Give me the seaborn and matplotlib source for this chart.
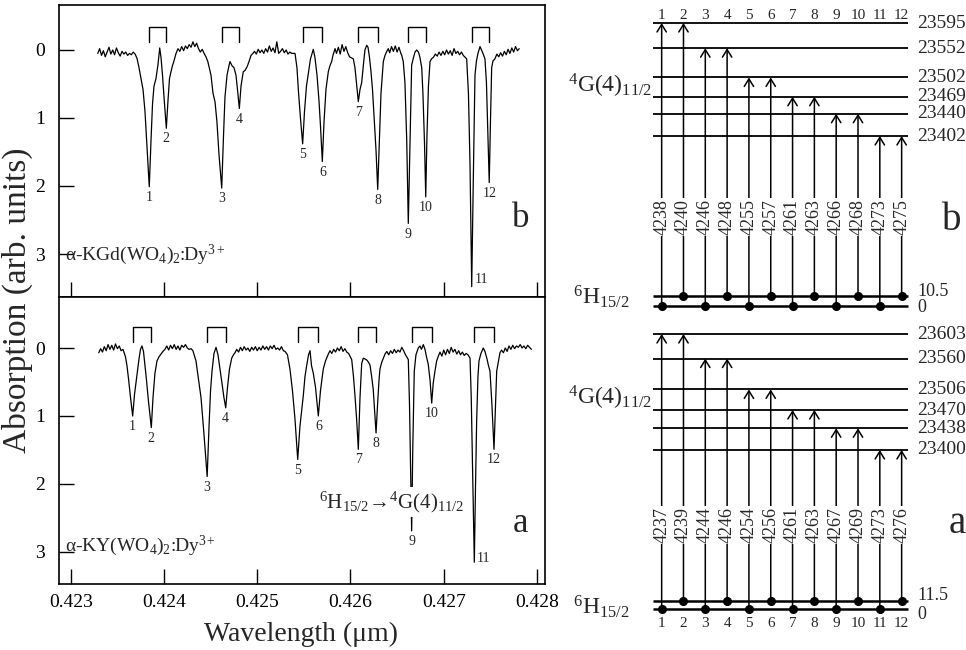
import numpy as np
import pandas as pd
import matplotlib
matplotlib.use('Agg')
import matplotlib.pyplot as plt
import matplotlib.transforms as mtransforms
import seaborn as sns

sns.set_theme(style='ticks')
plt.rcParams['font.family'] = ['Liberation Serif', 'DejaVu Serif']
plt.rcParams['mathtext.fontset'] = 'custom'
plt.rcParams['mathtext.rm'] = 'Liberation Serif'
plt.rcParams['mathtext.it'] = 'Liberation Serif:italic'
plt.rcParams['mathtext.bf'] = 'Liberation Serif:bold'
plt.rcParams['axes.unicode_minus'] = False

# ---------------- spectrum b : alpha-KGd(WO4)2:Dy3+  (wavelength in nm, absorption arb. units)
spec_b_wl = [
    423.29, 423.31, 423.33, 423.35, 423.37, 423.39, 423.41, 423.43, 423.45, 423.47, 423.49, 423.51,
    423.53, 423.55, 423.57, 423.59, 423.61, 423.63, 423.65, 423.67, 423.69, 423.71,
    423.732, 423.753, 423.775, 423.796, 423.818, 423.842, 423.861, 423.877, 423.893, 423.914, 423.936,
    423.954, 423.968, 423.984, 424.000, 424.025, 424.043, 424.059, 424.075, 424.091, 424.107, 424.129, 424.150,
    424.17, 424.19, 424.21, 424.23, 424.25, 424.27, 424.29, 424.31, 424.33, 424.35, 424.37, 424.39,
    424.41, 424.43, 424.45, 424.47,
    424.504, 424.526, 424.547, 424.568, 424.590, 424.619, 424.638, 424.654, 424.676, 424.697, 424.708,
    424.729, 424.751, 424.772, 424.788, 424.808, 424.826, 424.850, 424.869, 424.890, 424.912, 424.933, 424.954,
    424.97, 424.99, 425.01, 425.03, 425.05, 425.07, 425.09, 425.11, 425.13, 425.15, 425.17, 425.19,
    425.21, 425.23, 425.25, 425.27, 425.29, 425.31, 425.33, 425.35, 425.37, 425.405,
    425.426, 425.442, 425.464, 425.487, 425.507, 425.528, 425.550, 425.571, 425.601, 425.619, 425.641,
    425.662, 425.678, 425.698, 425.716, 425.737, 425.762, 425.780, 425.798, 425.812, 425.834,
    425.85, 425.87, 425.89, 425.91, 425.93, 425.95, 425.97, 425.99,
    426.030, 426.048, 426.064, 426.084, 426.102, 426.120, 426.139, 426.155, 426.174, 426.188, 426.204,
    426.220, 426.236, 426.252, 426.274, 426.292, 426.311, 426.327, 426.352, 426.370, 426.386, 426.405,
    426.42, 426.44, 426.46, 426.48, 426.50, 426.52, 426.54, 426.55,
    426.566, 426.584, 426.603, 426.620, 426.636, 426.656, 426.676, 426.692, 426.710, 426.729, 426.745,
    426.764, 426.777, 426.794, 426.807, 426.820, 426.836, 426.853, 426.869, 426.888,
    426.91, 426.93, 426.95, 426.97, 426.99, 427.01, 427.03, 427.05, 427.07, 427.09, 427.11, 427.13,
    427.15, 427.17, 427.19, 427.21,
    427.246, 427.265, 427.282, 427.300, 427.317, 427.335, 427.351, 427.367, 427.389, 427.405, 427.421,
    427.442, 427.458, 427.472, 427.488, 427.501, 427.514, 427.528, 427.549,
    427.57, 427.59, 427.61, 427.63, 427.65, 427.67, 427.69, 427.71, 427.73, 427.75, 427.77, 427.79, 427.81,
]
spec_b_abs = [
    0.05, -0.02, 0.08, 0.01, 0.10, 0.03, -0.04, 0.06, 0.00, 0.07, -0.03, 0.04,
    0.09, 0.02, 0.06, 0.03, 0.08, 0.05, 0.07, 0.03, 0.06, 0.12,
    0.26, 0.42, 0.58, 0.90, 1.43, 2.01, 1.32, 0.79, 0.53, 0.42, 0.21,
    -0.03, 0.11, 0.37, 0.69, 1.15, 0.74, 0.42, 0.32, 0.23, 0.16, 0.05, -0.02,
    0.02, -0.05, 0.01, -0.06, -0.02, -0.08, -0.04, -0.12, -0.05, -0.10, -0.02, 0.03,
    -0.01, 0.05, 0.10, 0.17,
    0.37, 0.64, 0.76, 1.06, 1.54, 2.03, 1.27, 0.69, 0.37, 0.23, 0.17,
    0.23, 0.26, 0.37, 0.58, 0.86, 0.53, 0.32, 0.30, 0.25, 0.17, 0.08, 0.05,
    0.02, 0.06, -0.01, 0.04, 0.00, 0.05, -0.02, 0.03, -0.06, 0.02, -0.03, 0.04,
    -0.12, 0.05, 0.02, -0.02, 0.04, 0.00, 0.06, 0.03, 0.05, 0.05,
    0.26, 0.61, 1.01, 1.38, 0.90, 0.53, 0.32, 0.13, -0.01, 0.11, 0.37,
    0.74, 1.11, 1.64, 1.06, 0.58, 0.32, 0.23, 0.17, 0.08, -0.02,
    0.05, -0.04, 0.06, -0.08, 0.02, -0.05, 0.04, 0.10,
    0.13, 0.26, 0.48, 0.76, 0.58, 0.48, 0.21, 0.00, -0.07, -0.04, 0.11,
    0.32, 0.58, 0.95, 1.48, 2.05, 1.27, 0.64, 0.17, 0.08, 0.03, -0.02,
    0.04, -0.05, 0.02, -0.06, 0.03, -0.04, 0.05, 0.08,
    0.17, 0.48, 1.32, 2.55, 1.48, 0.22, 0.11, 0.03, 0.00, 0.03, 0.11,
    0.26, 0.64, 1.38, 2.16, 1.27, 0.53, 0.17, 0.13, 0.11,
    0.06, 0.09, 0.03, 0.08, 0.02, 0.07, 0.00, 0.06, 0.01, 0.08, -0.02, 0.05,
    0.02, 0.07, 0.03, 0.08,
    0.13, 0.64, 1.69, 3.48, 1.91, 0.37, 0.16, 0.05, -0.05, 0.00, 0.05,
    0.13, 0.48, 1.16, 1.95, 1.06, 0.26, 0.16, 0.13,
    0.06, 0.10, 0.04, 0.09, 0.02, 0.07, -0.01, 0.05, -0.03, 0.03, -0.05, 0.01, -0.02,
]
peaks_b_wl = [423.842, 424.025, 424.619, 424.808, 425.487, 425.698,
              426.084, 426.292, 426.620, 426.807, 427.300, 427.488]

# ---------------- spectrum a : alpha-KY(WO4)2:Dy3+
spec_a_wl = [
    423.30, 423.32, 423.34, 423.36, 423.38, 423.40, 423.42, 423.44, 423.46, 423.48, 423.50, 423.52,
    423.54, 423.56,
    423.587, 423.603, 423.621, 423.641, 423.664, 423.684, 423.710, 423.732, 423.748, 423.764, 423.780,
    423.796, 423.810, 423.834, 423.864, 423.882, 423.903, 423.925, 423.946, 423.968, 423.989,
    424.01, 424.03, 424.05, 424.07, 424.09, 424.11, 424.13, 424.15, 424.17, 424.19, 424.21, 424.23,
    424.25, 424.27, 424.29, 424.31,
    424.343, 424.372, 424.397, 424.426, 424.445, 424.463, 424.483, 424.499, 424.515, 424.536, 424.558,
    424.579, 424.601, 424.622, 424.643, 424.662, 424.681, 424.702, 424.726, 424.745, 424.761,
    424.78, 424.80, 424.82, 424.84, 424.86, 424.88, 424.90, 424.92, 424.94, 424.96, 424.98, 425.00,
    425.02, 425.04, 425.06, 425.08, 425.10, 425.12, 425.14, 425.16, 425.18, 425.20, 425.22, 425.24,
    425.26, 425.28,
    425.298, 425.324, 425.351, 425.378, 425.405, 425.434, 425.458, 425.494, 425.512, 425.530, 425.550,
    425.566, 425.582, 425.601, 425.625, 425.655, 425.678, 425.708, 425.732, 425.762,
    425.78, 425.80, 425.82, 425.84, 425.86, 425.88, 425.90, 425.92, 425.94, 425.96, 425.98,
    426.013, 426.032, 426.048, 426.066, 426.084, 426.102, 426.120, 426.137, 426.155, 426.177, 426.193,
    426.209, 426.227, 426.244, 426.260, 426.274, 426.290, 426.306, 426.316, 426.335, 426.352, 426.370,
    426.39, 426.41, 426.43, 426.45, 426.47, 426.49, 426.51, 426.53, 426.55, 426.57, 426.59,
    426.620, 426.633, 426.643, 426.656, 426.668, 426.684, 426.702, 426.727, 426.745, 426.761, 426.781,
    426.799, 426.815, 426.834, 426.853, 426.871, 426.887, 426.906, 426.924, 426.942,
    426.96, 426.98, 427.00, 427.02, 427.04, 427.06, 427.08, 427.10, 427.12, 427.14, 427.16, 427.18,
    427.20, 427.22, 427.24, 427.26,
    427.282, 427.295, 427.306, 427.317, 427.328, 427.340, 427.353, 427.367, 427.378, 427.399, 427.424,
    427.442, 427.464, 427.480, 427.496, 427.517, 427.539, 427.555, 427.568, 427.587, 427.603,
    427.62, 427.64, 427.66, 427.68, 427.70, 427.72, 427.74, 427.76, 427.78, 427.80, 427.82, 427.84,
    427.86, 427.88, 427.90, 427.94,
]
spec_a_abs = [
    0.07, 0.01, 0.06, -0.02, 0.04, -0.05, 0.02, -0.04, 0.03, -0.06, 0.01, -0.03,
    0.04, 0.02,
    0.13, 0.26, 0.47, 0.73, 1.00, 0.68, 0.40, 0.16, 0.02, -0.03, 0.05,
    0.26, 0.44, 0.79, 1.17, 0.73, 0.37, 0.19, 0.13, 0.09, 0.05,
    0.02, -0.03, 0.03, -0.04, 0.01, -0.05, 0.02, -0.03, 0.03, -0.04, -0.01, -0.05,
    0.00, 0.02, 0.01, 0.04,
    0.19, 0.48, 0.73, 1.22, 1.57, 1.89, 1.15, 0.63, 0.34, 0.08, -0.01,
    0.10, 0.31, 0.52, 0.73, 0.88, 0.58, 0.31, 0.15, 0.10, 0.07,
    0.02, 0.06, -0.01, 0.04, -0.02, 0.03, 0.00, 0.05, -0.01, 0.03, -0.02, 0.04,
    -0.01, 0.03, -0.03, 0.02, -0.02, 0.03, -0.03, 0.01, -0.04, 0.02, 0.00, 0.03,
    -0.02, 0.04,
    0.05, 0.10, 0.31, 0.63, 1.05, 1.64, 1.15, 0.70, 0.42, 0.26, 0.10,
    0.04, 0.26, 0.37, 0.58, 1.00, 0.63, 0.31, 0.19, 0.09,
    0.04, 0.08, 0.02, 0.06, 0.00, 0.04, -0.02, 0.05, 0.01, 0.06, 0.08,
    0.17, 0.42, 0.70, 1.05, 1.49, 0.73, 0.23, 0.15, 0.16, 0.18, 0.21,
    0.25, 0.42, 0.61, 0.94, 1.25, 0.84, 0.47, 0.31, 0.21, 0.15, 0.09,
    0.05, 0.10, 0.04, 0.08, 0.02, 0.07, 0.03, 0.06, -0.01, 0.04, 0.10,
    0.17, 0.84, 1.68, 2.69, 1.47, 0.34, 0.10, 0.00, -0.03, 0.02, -0.05,
    0.02, 0.13, 0.24, 0.47, 0.81, 0.52, 0.34, 0.19, 0.12,
    0.06, 0.12, 0.03, 0.10, 0.02, 0.08, -0.01, 0.06, 0.02, 0.09, 0.04, 0.10,
    0.06, 0.11, 0.08, 0.10,
    0.15, 0.73, 1.56, 2.41, 3.15, 2.10, 1.07, 0.42, 0.19, 0.08, 0.00,
    0.05, 0.16, 0.26, 0.34, 0.84, 1.49, 0.84, 0.34, 0.19, 0.07,
    0.03, 0.07, 0.00, 0.05, -0.03, 0.02, -0.04, 0.01, -0.03, -0.01, -0.05, 0.00,
    -0.03, 0.01, -0.04, 0.02,
]
peaks_a_wl = [423.664, 423.864, 424.463, 424.662, 425.434, 425.655,
              426.084, 426.274, 426.656, 426.871, 427.328, 427.539]

peak_labels = [str(i) for i in range(1, 13)]
x_ticks = [0.423, 0.424, 0.425, 0.426, 0.427, 0.428]
x_tick_labels = ['0.423', '0.424', '0.425', '0.426', '0.427', '0.428']
y_ticks = [0, 1, 2, 3]

# ---------------- energy level diagrams (cm-1) and transition wavelengths (Angstrom)
upper_b = [23595, 23552, 23502, 23469, 23440, 23402]
ground_b = [0, 10.5]
wl_lines_b = [4238, 4240, 4246, 4248, 4255, 4257, 4261, 4263, 4266, 4268, 4273, 4275]

upper_a = [23603, 23560, 23506, 23470, 23438, 23400]
ground_a = [0, 11.5]
wl_lines_a = [4237, 4239, 4244, 4246, 4254, 4256, 4261, 4263, 4267, 4269, 4273, 4276]

W, H = 966, 650
fig = plt.figure(figsize=(W / 100, H / 100), dpi=100)
fig.patch.set_facecolor('white')


def fx(px):
    return px / W


def fy(py):
    return 1 - py / H


ax_b = fig.add_axes([fx(59), fy(297), fx(545) - fx(59), fy(5) - fy(297)])
ax_a = fig.add_axes([fx(59), fy(584), fx(545) - fx(59), fy(297) - fy(584)])


def draw_spectrum(ax, wl, ab, peaks, ylim, br_top, br_leg, show_xlabels, special):
    df = pd.DataFrame({'wl': np.array(wl) / 1000.0, 'A': ab})
    sns.lineplot(data=df, x='wl', y='A', ax=ax, color='black', lw=0.9,
                 estimator=None, sort=False)
    ax.set_facecolor('white')
    ax.set_xlim(0.422874, 0.428086)
    ax.set_ylim(*ylim)
    ax.set_xlabel('')
    ax.set_ylabel('')
    ax.set_xticks(x_ticks)
    ax.set_yticks(y_ticks)
    ax.set_yticklabels([str(v) for v in y_ticks])
    if show_xlabels:
        ax.set_xticklabels(x_tick_labels)
    else:
        ax.set_xticklabels([])
    ax.tick_params(axis='both', direction='in', length=11, width=1.0, colors='black',
                   labelsize=14)
    ax.tick_params(axis='y', pad=10)
    ax.tick_params(axis='x', pad=7)
    for s in ax.spines.values():
        s.set_visible(True)
        s.set_color('black')
        s.set_linewidth(1.2)
    # brackets pairing lines that end on the same upper level
    for k in range(6):
        x1 = peaks[2 * k] / 1000.0
        x2 = peaks[2 * k + 1] / 1000.0
        ax.plot([x1, x1, x2, x2], [br_leg, br_top, br_top, br_leg], color='black', lw=1.0)
    # peak numbers
    for w, lab in zip(peaks, peak_labels):
        tip = np.interp(w, wl, ab)
        if lab in special:
            dx, dy = special[lab]
            ax.annotate(lab, (w / 1000.0, tip), xytext=(dx, dy), textcoords='offset points',
                        ha='left', va='center', fontsize=10)
        else:
            ax.annotate(lab, (w / 1000.0, tip), xytext=(0, -3), textcoords='offset points',
                        ha='center', va='top', fontsize=10)


draw_spectrum(ax_b, spec_b_wl, spec_b_abs, peaks_b_wl, ((297 - 50) / 68, (5 - 50) / 68),
              -0.34, -0.12, False, {'11': (2, 5)})
draw_spectrum(ax_a, spec_a_wl, spec_a_abs, peaks_a_wl, ((584 - 348) / 68, (297 - 348) / 68),
              -0.31, -0.09, True, {'11': (2, 3)})

# panel texts
fig.text(fx(65), fy(260), 'α-KGd(WO$_4$)$_2$:Dy$^{3+}$', ha='left', va='baseline', fontsize=14)
fig.text(fx(65), fy(551), 'α-KY(WO$_4$)$_2$:Dy$^{3+}$', ha='left', va='baseline', fontsize=14)
fig.text(fx(521), fy(227), 'b', ha='center', va='baseline', fontsize=25)
fig.text(fx(521), fy(532), 'a', ha='center', va='baseline', fontsize=25)
fig.text(fx(392), fy(508), '$^6$H$_{15/2}$→$^4$G(4)$_{11/2}$', ha='center', va='baseline',
         fontsize=15, bbox=dict(facecolor='white', edgecolor='none', pad=1.5), zorder=10)

fig.text(fx(301), fy(641), 'Wavelength (μm)', ha='center', va='baseline', fontsize=20)
fig.text(fx(17), fy(300), 'Absorption (arb. units)', ha='center', va='center',
         rotation=90, fontsize=24)


# ---------------- energy level diagrams
def draw_diagram(ax, upper, ground, wls, base, k, ylim, wl_frac, num_frac, gnd_offsets):
    def fwd(E):
        E = np.asarray(E, dtype=float)
        return np.where(E < 100, base + k * E, E)

    def inv(y):
        y = np.asarray(y, dtype=float)
        return np.where(y < base + 100 * k, (y - base) / k, y)

    ax.set_yscale('function', functions=(fwd, inv))
    ax.set_xlim(-3.66, 14.95)
    ax.set_ylim(*ylim)
    ax.axis('off')
    blend = mtransforms.blended_transform_factory(ax.transData, ax.transAxes)
    ax.hlines(upper, 0.6, 12.3, color='black', lw=1.3)
    ax.hlines(ground, 0.6, 12.3, color='black', lw=1.8)
    for E in upper:
        ax.text(12.7, E, str(E), ha='left', va='center', fontsize=14)
    for E, off in zip(ground, gnd_offsets):
        ax.annotate('%g' % E, (12.7, E), xytext=(0, off), textcoords='offset points',
                    ha='left', va='center', fontsize=13)
    for i in range(12):
        x = i + 1
        Eu = upper[i // 2]
        El = ground[i % 2]
        ax.annotate('', xy=(x, Eu), xytext=(x, El),
                    arrowprops=dict(arrowstyle='->,head_length=0.45,head_width=0.28',
                                    color='black', lw=1.1, shrinkA=0, shrinkB=0,
                                    mutation_scale=12))
        ax.plot([x], [El], 'o', color='black', ms=5.5)
        ax.text(x, wl_frac, str(wls[i]), transform=blend, rotation=90, ha='center',
                va='center', fontsize=13,
                bbox=dict(facecolor='white', edgecolor='none', pad=0.8), zorder=6)
        ax.text(x, num_frac, str(i + 1), transform=blend, ha='center', va='center',
                fontsize=11)


ax_db = fig.add_axes([fx(560), fy(315), fx(966) - fx(560), fy(0) - fy(315)])
ax_da = fig.add_axes([fx(560), fy(650), fx(966) - fx(560), fy(315) - fy(650)])
draw_diagram(ax_db, upper_b, ground_b, wl_lines_b, 23111.6, 1.63, (-9.4, 23634.3), 0.312, 0.952,
             [-1, 3])
draw_diagram(ax_da, upper_a, ground_a, wl_lines_a, 23121.7, 1.217, (-59.0, 23636.3), 0.373, 0.080,
             [-4, 4])

fig.text(fx(568), fy(93), '$^4$G(4)$_{11/2}$', ha='left', va='baseline', fontsize=17)
fig.text(fx(573), fy(304), '$^6$H$_{15/2}$', ha='left', va='baseline', fontsize=17)
fig.text(fx(568), fy(405), '$^4$G(4)$_{11/2}$', ha='left', va='baseline', fontsize=17)
fig.text(fx(573), fy(614), '$^6$H$_{15/2}$', ha='left', va='baseline', fontsize=17)
fig.text(fx(952), fy(230), 'b', ha='center', va='baseline', fontsize=28)
fig.text(fx(957), fy(533), 'a', ha='center', va='baseline', fontsize=28)

fig.savefig('out.png', dpi=100, facecolor='white')
